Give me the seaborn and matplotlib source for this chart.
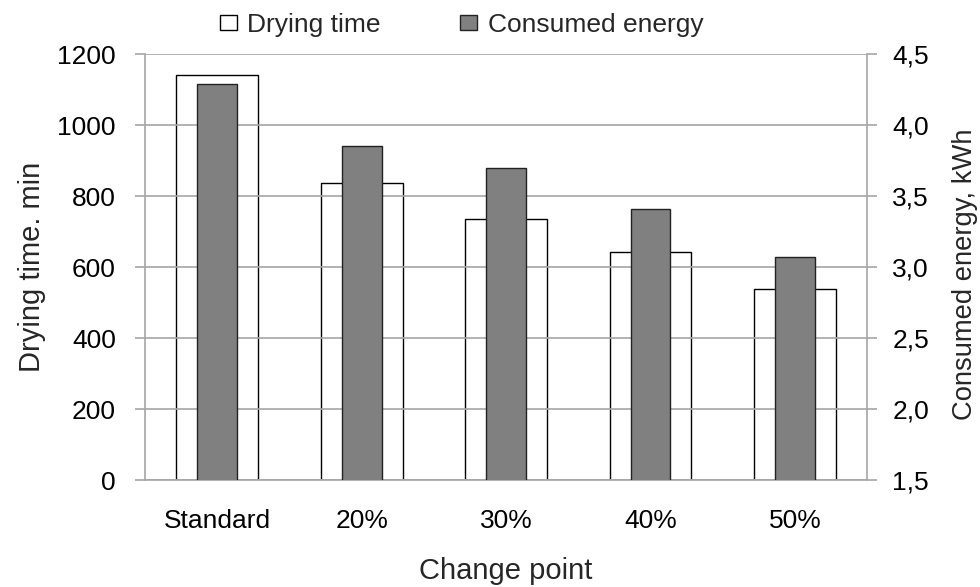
import matplotlib
matplotlib.use("Agg")
import matplotlib.pyplot as plt
import seaborn as sns
import pandas as pd
from matplotlib.patches import Patch
from matplotlib.ticker import FixedLocator, FuncFormatter

# Drying trials at different change points
categories = ["Standard", "20%", "30%", "40%", "50%"]
drying_time_min = [1140, 837, 734, 643, 538]
energy_kwh = [4.29, 3.85, 3.70, 3.41, 3.07]

df = pd.DataFrame({
    "change_point": categories,
    "drying_time": drying_time_min,
    "energy": energy_kwh,
})

sns.set_theme(style="white")
plt.rcParams["font.family"] = ["Liberation Sans", "DejaVu Sans"]

grid_col = "#a6a6a6"
fs = 19

fig = plt.figure(figsize=(9.8, 5.87), dpi=100)
ax = fig.add_axes([0.148, 0.182, 0.737, 0.726])

sns.barplot(data=df, x="change_point", y="drying_time", ax=ax,
            color="white", edgecolor="black", linewidth=1.0,
            width=0.565, saturation=1)
ax.set_ylim(0, 1200)
ax.set_yticks(range(0, 1201, 200))
ax.set_axisbelow(False)
ax.yaxis.grid(True, color=grid_col, linewidth=1.2)
ax.xaxis.grid(False)

ax2 = ax.twinx()
sns.barplot(data=df, x="change_point", y="energy", ax=ax2,
            color="#808080", edgecolor="#222222", linewidth=1.0,
            width=0.275, saturation=1)
ax2.set_ylim(1.5, 4.5)
ax2.set_yticks([1.5, 2.0, 2.5, 3.0, 3.5, 4.0, 4.5])
ax2.yaxis.set_major_formatter(FuncFormatter(lambda v, p: f"{v:.1f}".replace(".", ",")))
ax2.grid(False)

ax.set_xlim(-0.5, len(categories) - 0.5)

for a in (ax, ax2):
    for s in a.spines.values():
        s.set_color(grid_col)
        s.set_linewidth(1.2)
    a.spines["top"].set_visible(False)

ax.spines["right"].set_visible(False)
ax2.spines["left"].set_visible(False)
ax2.spines["bottom"].set_visible(False)

# category separators on the x axis
ax.xaxis.set_minor_locator(FixedLocator([i - 0.5 for i in range(len(categories) + 1)]))
ax.tick_params(axis="x", which="major", length=0, pad=21, labelsize=fs, colors="black")
ax.tick_params(axis="x", which="minor", length=7, width=1.2, color=grid_col, direction="out")
ax.tick_params(axis="y", length=7, width=1.2, color=grid_col, direction="out",
               labelsize=fs, labelcolor="black", pad=14)
ax2.tick_params(axis="y", length=7, width=1.2, color=grid_col, direction="out",
                labelsize=fs, labelcolor="black", pad=11)
ax2.tick_params(axis="x", length=0)

ax.set_xlabel("Change point", fontsize=21)
ax.xaxis.set_label_coords(0.5, -0.18)
ax.set_ylabel("Drying time. min", fontsize=21)
ax.yaxis.set_label_coords(-0.137, 0.5)
ax2.set_ylabel("Consumed energy, kWh", fontsize=19.7)
ax2.yaxis.set_label_coords(1.117, 0.484)

handles = [
    Patch(facecolor="white", edgecolor="black", linewidth=1.0, label="Drying time"),
    Patch(facecolor="#808080", edgecolor="#222222", linewidth=1.0, label="Consumed energy"),
]
fig.legend(handles=handles, loc="center", bbox_to_anchor=(0.471, 1 - 25 / 587),
           ncol=2, frameon=False, fontsize=fs, handlelength=0.65, handleheight=0.5,
           handletextpad=0.4, columnspacing=3.0)

fig.savefig("out.png", dpi=100)
